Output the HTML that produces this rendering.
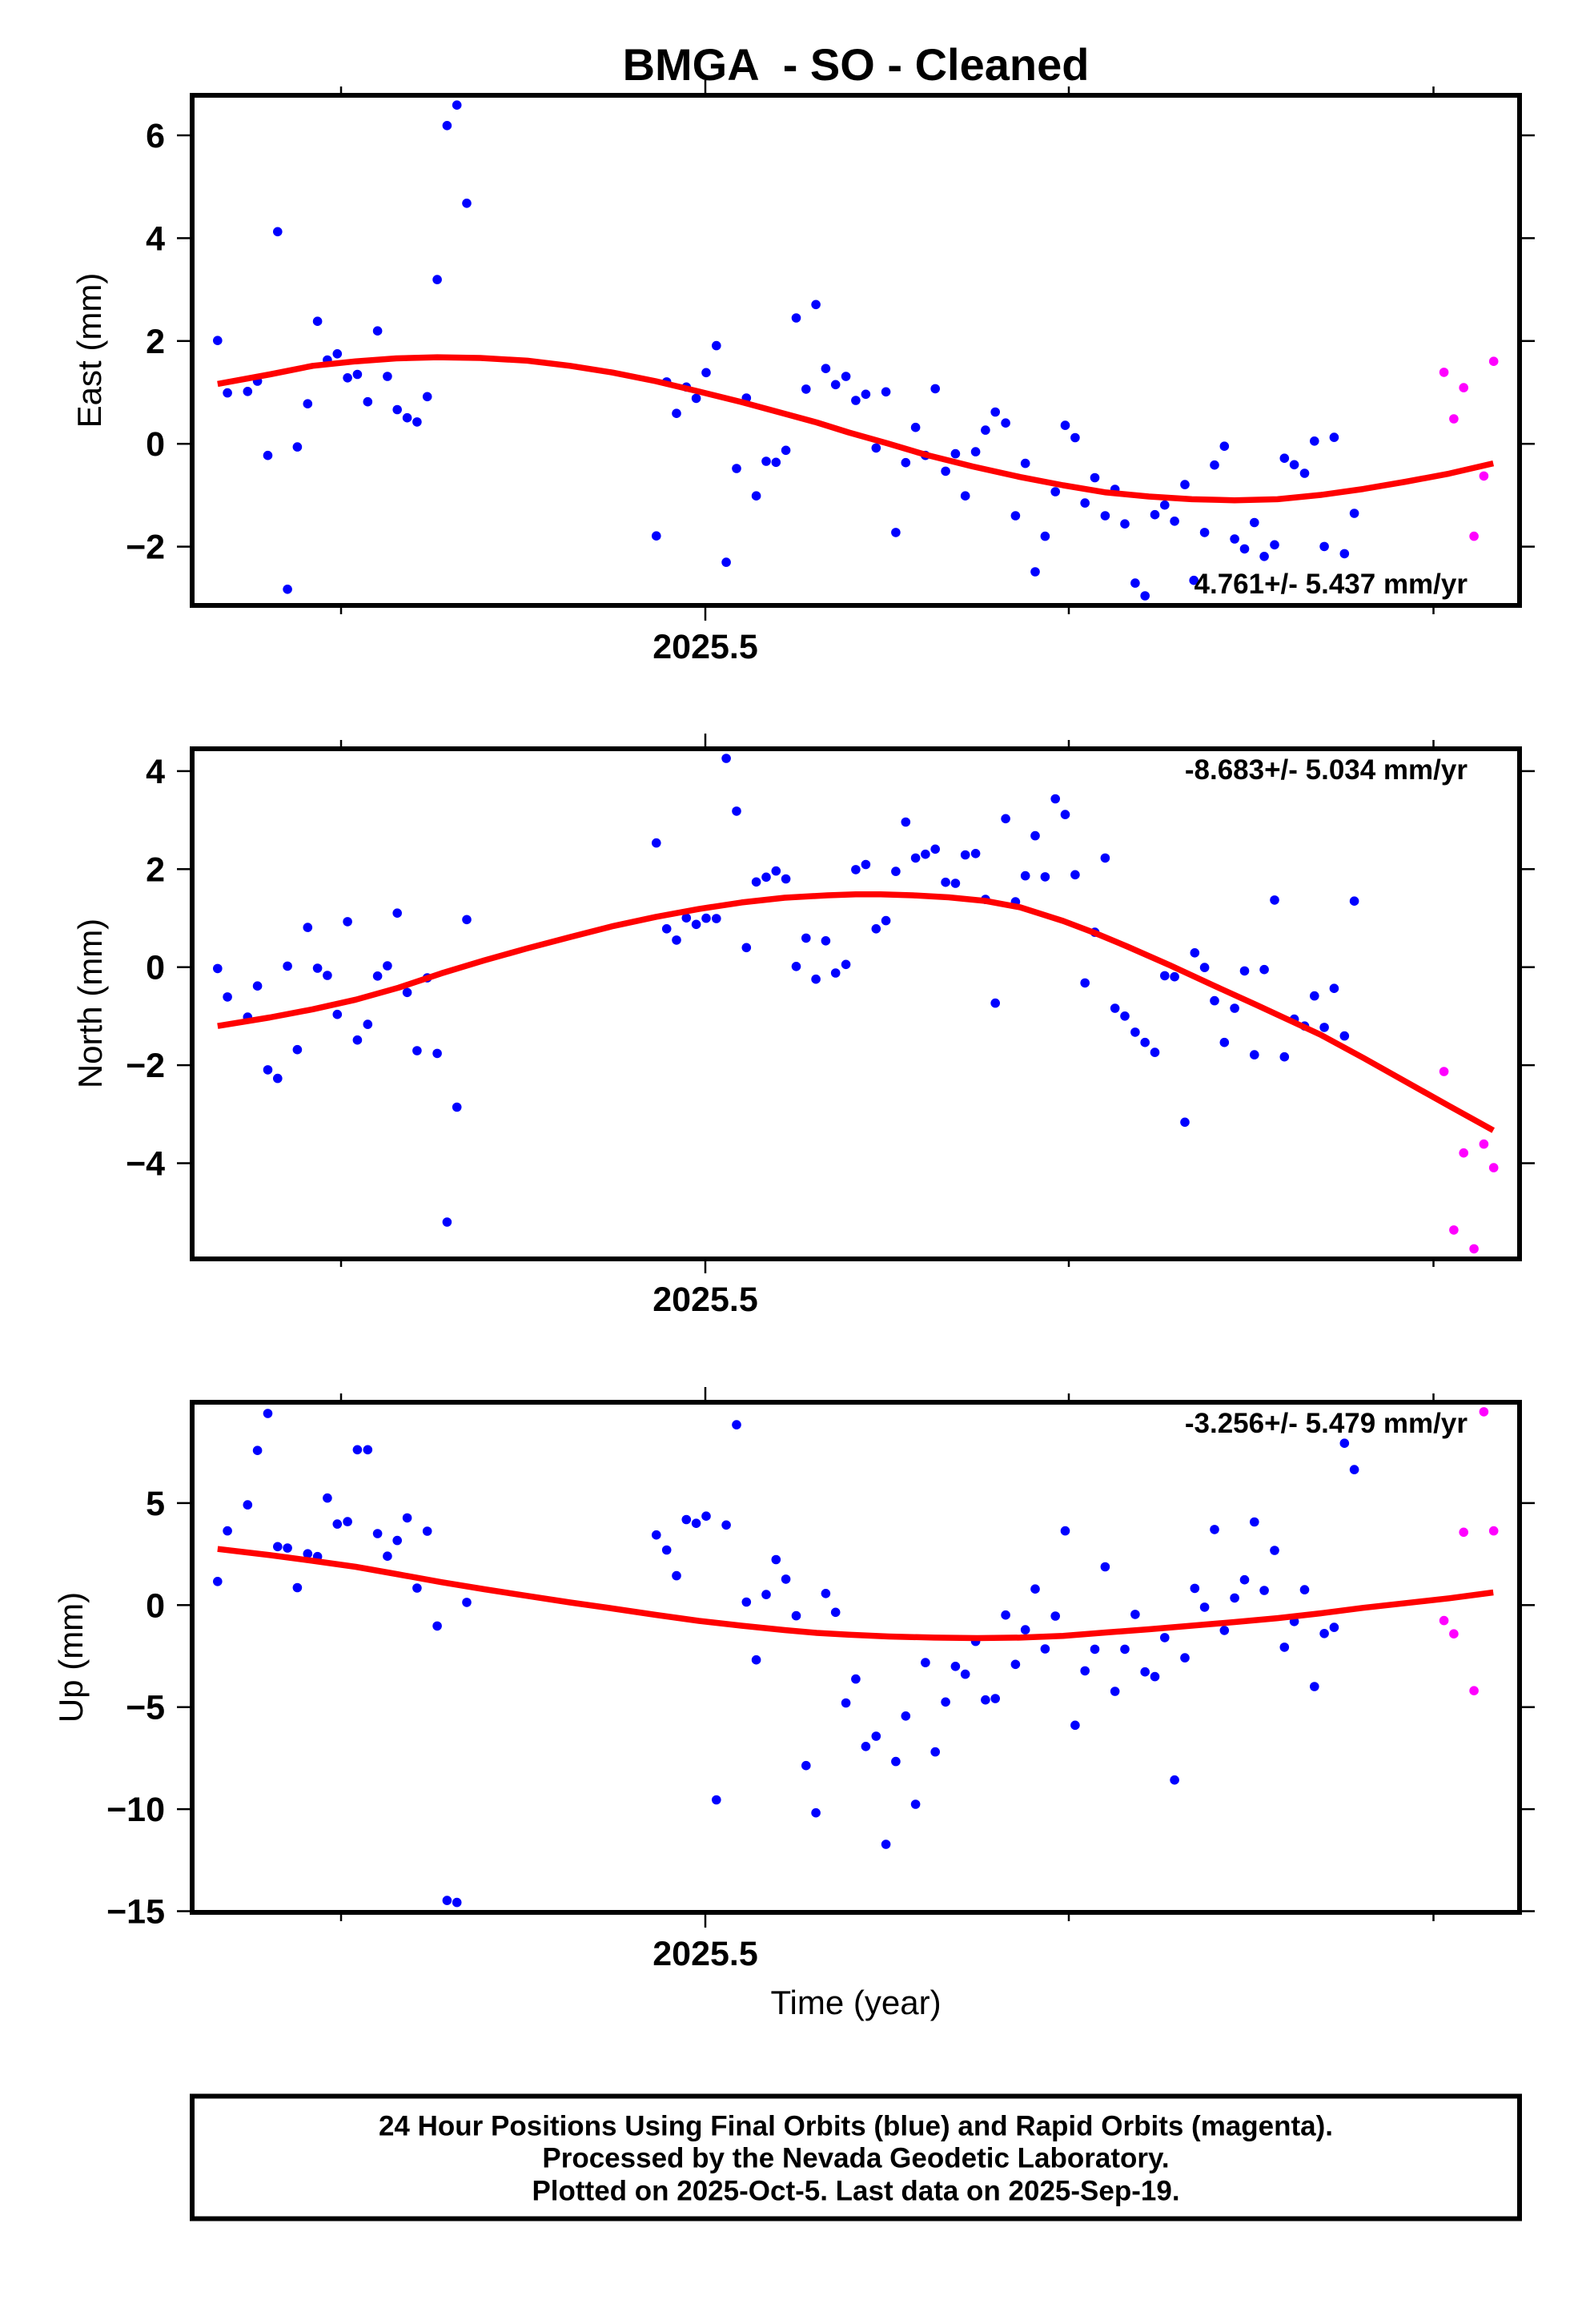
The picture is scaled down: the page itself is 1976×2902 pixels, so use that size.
<!DOCTYPE html>
<html>
<head>
<meta charset="utf-8">
<style>
html,body{margin:0;padding:0;background:#fff;}
svg{display:block;}
text{font-family:"Liberation Sans",Arial,Helvetica,sans-serif;fill:#000;}
.b{font-weight:bold;}
.tl{font-size:43px;font-weight:bold;}
.vel{font-size:35px;font-weight:bold;}
.ax{font-size:42px;}
</style>
</head>
<body>
<svg width="1976" height="2902" viewBox="0 0 1976 2902" xmlns="http://www.w3.org/2000/svg">
<rect x="0" y="0" width="1976" height="2902" fill="#fff"/>

<!-- Title -->
<text x="1069" y="100" class="b" font-size="56" text-anchor="middle" style="white-space:pre" xml:space="preserve">BMGA  - SO - Cleaned</text>

<!-- ================= PANEL 1 (East) ================= -->
<g stroke="#000" stroke-width="2.5">
  <!-- y ticks left/right -->
  <line x1="221" y1="169" x2="237" y2="169"/><line x1="1901" y1="169" x2="1917" y2="169"/>
  <line x1="221" y1="297.4" x2="237" y2="297.4"/><line x1="1901" y1="297.4" x2="1917" y2="297.4"/>
  <line x1="221" y1="425.8" x2="237" y2="425.8"/><line x1="1901" y1="425.8" x2="1917" y2="425.8"/>
  <line x1="221" y1="554.2" x2="237" y2="554.2"/><line x1="1901" y1="554.2" x2="1917" y2="554.2"/>
  <line x1="221" y1="682.6" x2="237" y2="682.6"/><line x1="1901" y1="682.6" x2="1917" y2="682.6"/>
  <!-- x ticks top -->
  <line x1="426" y1="116" x2="426" y2="108"/><line x1="881" y1="116" x2="881" y2="100"/>
  <line x1="1335" y1="116" x2="1335" y2="108"/><line x1="1790.5" y1="116" x2="1790.5" y2="108"/>
  <!-- x ticks bottom -->
  <line x1="426" y1="759" x2="426" y2="767"/><line x1="881" y1="759" x2="881" y2="775"/>
  <line x1="1335" y1="759" x2="1335" y2="767"/><line x1="1790.5" y1="759" x2="1790.5" y2="767"/>
</g>
<g class="tl" text-anchor="end">
  <text x="206" y="184">6</text>
  <text x="206" y="312.4">4</text>
  <text x="206" y="440.8">2</text>
  <text x="206" y="569.2">0</text>
  <text x="206" y="697.6">−2</text>
</g>
<text class="tl" x="881" y="822" text-anchor="middle">2025.5</text>
<text class="ax" transform="translate(126,437.5) rotate(-90)" text-anchor="middle">East (mm)</text>

<g fill="#0000ff">
<circle cx="271.8" cy="425.2" r="5.8"/><circle cx="284.1" cy="490.6" r="5.8"/><circle cx="309.3" cy="488.8" r="5.8"/><circle cx="321.6" cy="476.0" r="5.8"/><circle cx="334.5" cy="568.7" r="5.8"/><circle cx="346.8" cy="289.3" r="5.8"/><circle cx="359.1" cy="735.8" r="5.8"/><circle cx="371.4" cy="558.1" r="5.8"/><circle cx="384.3" cy="504.2" r="5.8"/><circle cx="396.6" cy="401.2" r="5.8"/><circle cx="408.9" cy="449.5" r="5.8"/><circle cx="421.3" cy="441.8" r="5.8"/><circle cx="434.1" cy="471.8" r="5.8"/><circle cx="446.4" cy="467.5" r="5.8"/><circle cx="459.3" cy="501.7" r="5.8"/><circle cx="471.6" cy="413.2" r="5.8"/><circle cx="483.9" cy="470.0" r="5.8"/><circle cx="496.2" cy="511.5" r="5.8"/><circle cx="508.6" cy="521.7" r="5.8"/><circle cx="520.9" cy="526.9" r="5.8"/><circle cx="533.7" cy="495.3" r="5.8"/><circle cx="546.1" cy="349.1" r="5.8"/><circle cx="558.4" cy="156.8" r="5.8"/><circle cx="570.7" cy="131.2" r="5.8"/><circle cx="583.0" cy="253.8" r="5.8"/>
<circle cx="819.8" cy="669.2" r="5.8"/><circle cx="832.7" cy="476.9" r="5.8"/><circle cx="845.0" cy="516.2" r="5.8"/><circle cx="857.3" cy="483.3" r="5.8"/><circle cx="869.6" cy="497.4" r="5.8"/><circle cx="882.0" cy="465.3" r="5.8"/><circle cx="894.8" cy="431.6" r="5.8"/><circle cx="907.1" cy="702.1" r="5.8"/><circle cx="920.0" cy="585.0" r="5.8"/><circle cx="932.3" cy="497.0" r="5.8"/><circle cx="944.6" cy="619.2" r="5.8"/><circle cx="957.0" cy="576.0" r="5.8"/><circle cx="969.3" cy="577.3" r="5.8"/><circle cx="981.6" cy="562.3" r="5.8"/><circle cx="994.5" cy="397.0" r="5.8"/><circle cx="1006.8" cy="485.9" r="5.8"/><circle cx="1019.1" cy="380.3" r="5.8"/><circle cx="1031.4" cy="460.2" r="5.8"/><circle cx="1043.7" cy="480.3" r="5.8"/><circle cx="1056.6" cy="470.0" r="5.8"/><circle cx="1068.9" cy="500.0" r="5.8"/>
<circle cx="1081.4" cy="492.3" r="5.8"/><circle cx="1094.3" cy="559.4" r="5.8"/><circle cx="1106.6" cy="489.3" r="5.8"/><circle cx="1118.9" cy="664.9" r="5.8"/><circle cx="1131.3" cy="577.7" r="5.8"/><circle cx="1143.6" cy="533.7" r="5.8"/><circle cx="1155.9" cy="568.7" r="5.8"/><circle cx="1168.2" cy="485.4" r="5.8"/><circle cx="1181.1" cy="588.4" r="5.8"/><circle cx="1193.4" cy="566.6" r="5.8"/><circle cx="1205.7" cy="619.2" r="5.8"/><circle cx="1218.6" cy="564.1" r="5.8"/><circle cx="1230.9" cy="537.1" r="5.8"/><circle cx="1243.2" cy="514.5" r="5.8"/><circle cx="1256.1" cy="528.2" r="5.8"/><circle cx="1268.4" cy="644.0" r="5.8"/><circle cx="1280.7" cy="578.6" r="5.8"/><circle cx="1293.0" cy="714.0" r="5.8"/><circle cx="1305.4" cy="669.6" r="5.8"/><circle cx="1318.2" cy="614.0" r="5.8"/><circle cx="1330.5" cy="531.1" r="5.8"/><circle cx="1342.9" cy="546.5" r="5.8"/><circle cx="1355.2" cy="628.1" r="5.8"/><circle cx="1367.5" cy="596.5" r="5.8"/><circle cx="1380.4" cy="644.0" r="5.8"/><circle cx="1392.7" cy="611.0" r="5.8"/><circle cx="1405.0" cy="654.2" r="5.8"/><circle cx="1417.9" cy="728.1" r="5.8"/><circle cx="1430.2" cy="744.0" r="5.8"/><circle cx="1442.5" cy="642.7" r="5.8"/><circle cx="1454.8" cy="630.7" r="5.8"/><circle cx="1467.1" cy="650.8" r="5.8"/><circle cx="1480.0" cy="605.1" r="5.8"/><circle cx="1491.2" cy="724.7" r="5.8"/><circle cx="1504.6" cy="664.9" r="5.8"/><circle cx="1517.0" cy="580.7" r="5.8"/><circle cx="1529.3" cy="557.2" r="5.8"/><circle cx="1542.1" cy="673.0" r="5.8"/><circle cx="1554.5" cy="685.4" r="5.8"/><circle cx="1566.8" cy="652.5" r="5.8"/><circle cx="1579.1" cy="694.8" r="5.8"/><circle cx="1592.0" cy="680.3" r="5.8"/><circle cx="1604.3" cy="572.2" r="5.8"/><circle cx="1616.6" cy="580.3" r="5.8"/><circle cx="1629.5" cy="591.0" r="5.8"/><circle cx="1641.8" cy="550.8" r="5.8"/><circle cx="1654.1" cy="682.4" r="5.8"/><circle cx="1666.4" cy="546.1" r="5.8"/><circle cx="1679.3" cy="691.4" r="5.8"/><circle cx="1691.6" cy="641.0" r="5.8"/>
</g>
<g fill="#ff00ff">
<circle cx="1803.6" cy="464.9" r="5.8"/><circle cx="1815.9" cy="523.0" r="5.8"/><circle cx="1828.2" cy="484.1" r="5.8"/><circle cx="1841.1" cy="669.6" r="5.8"/><circle cx="1853.4" cy="594.4" r="5.8"/><circle cx="1865.7" cy="451.2" r="5.8"/>
</g>
<polyline fill="none" stroke="#ff0000" stroke-width="7.5" stroke-linejoin="round" points="271.8,479.4 337.1,467.5 390.7,456.8 444.3,451.2 495,447.5 546.1,446.1 600,447 658.6,450.4 712,456.8 765.7,465.3 819,476 872.9,488.9 926,502 980,516.6 1020,527.5 1060,540 1108,553.5 1156.4,567.9 1215,582.5 1274.3,595.7 1328,606 1381.4,614.9 1435,620 1488.6,623.4 1542,624.7 1595.7,623.4 1650,618 1702.9,610.6 1756,601.5 1810,591.4 1865.2,578.6"/>
<text class="vel" x="1833" y="741" text-anchor="end">4.761+/- 5.437 mm/yr</text>
<rect x="240" y="119" width="1658" height="637" fill="none" stroke="#000" stroke-width="6"/>

<!-- ================= PANEL 2 (North) ================= -->
<g stroke="#000" stroke-width="2.5">
  <line x1="221" y1="962.9" x2="237" y2="962.9"/><line x1="1901" y1="962.9" x2="1917" y2="962.9"/>
  <line x1="221" y1="1085.3" x2="237" y2="1085.3"/><line x1="1901" y1="1085.3" x2="1917" y2="1085.3"/>
  <line x1="221" y1="1207.7" x2="237" y2="1207.7"/><line x1="1901" y1="1207.7" x2="1917" y2="1207.7"/>
  <line x1="221" y1="1330.1" x2="237" y2="1330.1"/><line x1="1901" y1="1330.1" x2="1917" y2="1330.1"/>
  <line x1="221" y1="1452.5" x2="237" y2="1452.5"/><line x1="1901" y1="1452.5" x2="1917" y2="1452.5"/>
  <line x1="426" y1="932" x2="426" y2="924"/><line x1="881" y1="932" x2="881" y2="916"/>
  <line x1="1335" y1="932" x2="1335" y2="924"/><line x1="1790.5" y1="932" x2="1790.5" y2="924"/>
  <line x1="426" y1="1574" x2="426" y2="1582"/><line x1="881" y1="1574" x2="881" y2="1590"/>
  <line x1="1335" y1="1574" x2="1335" y2="1582"/><line x1="1790.5" y1="1574" x2="1790.5" y2="1582"/>
</g>
<g class="tl" text-anchor="end">
  <text x="206" y="977.9">4</text>
  <text x="206" y="1100.3">2</text>
  <text x="206" y="1222.7">0</text>
  <text x="206" y="1345.1">−2</text>
  <text x="206" y="1467.5">−4</text>
</g>
<text class="tl" x="881" y="1637" text-anchor="middle">2025.5</text>
<text class="ax" transform="translate(127,1253) rotate(-90)" text-anchor="middle">North (mm)</text>

<g fill="#0000ff">
<circle cx="271.8" cy="1209.4" r="5.8"/><circle cx="284.1" cy="1244.9" r="5.8"/><circle cx="309.3" cy="1270.1" r="5.8"/><circle cx="321.6" cy="1231.2" r="5.8"/><circle cx="334.5" cy="1335.9" r="5.8"/><circle cx="346.8" cy="1346.6" r="5.8"/><circle cx="359.1" cy="1206.4" r="5.8"/><circle cx="371.4" cy="1310.7" r="5.8"/><circle cx="384.3" cy="1158.1" r="5.8"/><circle cx="396.6" cy="1209.0" r="5.8"/><circle cx="408.9" cy="1218.0" r="5.8"/><circle cx="421.3" cy="1266.7" r="5.8"/><circle cx="434.1" cy="1150.9" r="5.8"/><circle cx="446.4" cy="1298.7" r="5.8"/><circle cx="459.3" cy="1279.1" r="5.8"/><circle cx="471.6" cy="1218.8" r="5.8"/><circle cx="483.9" cy="1206.0" r="5.8"/><circle cx="496.2" cy="1140.2" r="5.8"/><circle cx="508.6" cy="1239.3" r="5.8"/><circle cx="520.9" cy="1312.0" r="5.8"/><circle cx="533.7" cy="1221.0" r="5.8"/><circle cx="546.1" cy="1315.4" r="5.8"/><circle cx="558.4" cy="1526.0" r="5.8"/><circle cx="570.7" cy="1382.5" r="5.8"/><circle cx="583.0" cy="1148.3" r="5.8"/>
<circle cx="819.8" cy="1052.6" r="5.8"/><circle cx="832.7" cy="1159.8" r="5.8"/><circle cx="845.0" cy="1173.9" r="5.8"/><circle cx="857.3" cy="1146.2" r="5.8"/><circle cx="869.6" cy="1154.3" r="5.8"/><circle cx="882.0" cy="1146.6" r="5.8"/><circle cx="894.8" cy="1147.0" r="5.8"/><circle cx="907.1" cy="947.0" r="5.8"/><circle cx="920.0" cy="1012.9" r="5.8"/><circle cx="932.3" cy="1183.3" r="5.8"/><circle cx="944.6" cy="1101.3" r="5.8"/><circle cx="957.0" cy="1095.3" r="5.8"/><circle cx="969.3" cy="1087.6" r="5.8"/><circle cx="981.6" cy="1097.5" r="5.8"/><circle cx="994.5" cy="1206.8" r="5.8"/><circle cx="1006.8" cy="1171.4" r="5.8"/><circle cx="1019.1" cy="1222.7" r="5.8"/><circle cx="1031.4" cy="1174.8" r="5.8"/><circle cx="1043.7" cy="1215.0" r="5.8"/><circle cx="1056.6" cy="1204.3" r="5.8"/><circle cx="1068.9" cy="1085.9" r="5.8"/>
<circle cx="1081.4" cy="1079.5" r="5.8"/><circle cx="1094.3" cy="1159.8" r="5.8"/><circle cx="1106.6" cy="1149.6" r="5.8"/><circle cx="1118.9" cy="1088.1" r="5.8"/><circle cx="1131.3" cy="1026.5" r="5.8"/><circle cx="1143.6" cy="1071.4" r="5.8"/><circle cx="1155.9" cy="1066.7" r="5.8"/><circle cx="1168.2" cy="1060.3" r="5.8"/><circle cx="1181.1" cy="1101.7" r="5.8"/><circle cx="1193.4" cy="1103.0" r="5.8"/><circle cx="1205.7" cy="1067.5" r="5.8"/><circle cx="1218.6" cy="1065.8" r="5.8"/><circle cx="1230.9" cy="1123.1" r="5.8"/><circle cx="1243.2" cy="1252.6" r="5.8"/><circle cx="1256.1" cy="1022.3" r="5.8"/><circle cx="1268.4" cy="1126.1" r="5.8"/><circle cx="1280.7" cy="1093.6" r="5.8"/><circle cx="1293.0" cy="1043.6" r="5.8"/><circle cx="1305.4" cy="1094.9" r="5.8"/><circle cx="1318.2" cy="997.5" r="5.8"/><circle cx="1330.5" cy="1017.1" r="5.8"/><circle cx="1342.9" cy="1092.3" r="5.8"/><circle cx="1355.2" cy="1227.4" r="5.8"/><circle cx="1367.5" cy="1164.1" r="5.8"/><circle cx="1380.4" cy="1071.4" r="5.8"/><circle cx="1392.7" cy="1259.0" r="5.8"/><circle cx="1405.0" cy="1268.8" r="5.8"/><circle cx="1417.9" cy="1288.9" r="5.8"/><circle cx="1430.2" cy="1301.7" r="5.8"/><circle cx="1442.5" cy="1314.1" r="5.8"/><circle cx="1454.8" cy="1218.4" r="5.8"/><circle cx="1467.1" cy="1219.7" r="5.8"/><circle cx="1480.0" cy="1401.3" r="5.8"/><circle cx="1492.3" cy="1189.8" r="5.8"/><circle cx="1504.6" cy="1208.1" r="5.8"/><circle cx="1517.0" cy="1249.6" r="5.8"/><circle cx="1529.3" cy="1301.7" r="5.8"/><circle cx="1542.1" cy="1259.0" r="5.8"/><circle cx="1554.5" cy="1212.4" r="5.8"/><circle cx="1566.8" cy="1317.1" r="5.8"/><circle cx="1579.1" cy="1210.7" r="5.8"/><circle cx="1592.0" cy="1123.9" r="5.8"/><circle cx="1604.3" cy="1319.7" r="5.8"/><circle cx="1616.6" cy="1272.6" r="5.8"/><circle cx="1629.5" cy="1281.2" r="5.8"/><circle cx="1641.8" cy="1243.6" r="5.8"/><circle cx="1654.1" cy="1282.9" r="5.8"/><circle cx="1666.4" cy="1234.2" r="5.8"/><circle cx="1679.3" cy="1293.6" r="5.8"/><circle cx="1691.6" cy="1125.2" r="5.8"/>
</g>
<g fill="#ff00ff">
<circle cx="1803.6" cy="1338.0" r="5.8"/><circle cx="1815.9" cy="1535.9" r="5.8"/><circle cx="1828.2" cy="1439.7" r="5.8"/><circle cx="1841.1" cy="1559.4" r="5.8"/><circle cx="1853.4" cy="1428.6" r="5.8"/><circle cx="1865.7" cy="1458.1" r="5.8"/>
</g>
<polyline fill="none" stroke="#ff0000" stroke-width="7.5" stroke-linejoin="round" points="271.8,1281.2 337.1,1270.5 390.7,1260.3 444.3,1248.3 497.9,1233.3 551.4,1215.4 605,1199.2 658.6,1184.2 712.1,1170.1 765.7,1156.4 819.3,1144.9 872.9,1135.1 926.4,1126.9 980,1121 1033.6,1118 1068.9,1116.7 1100,1116.8 1140.4,1118 1185,1120.5 1230.9,1125 1274.3,1133 1327.9,1150 1367.5,1165 1408.2,1182 1461.8,1205.6 1515.4,1230.4 1568.9,1254.7 1617,1277 1649.3,1292 1702.9,1321 1756.4,1351 1810,1381 1865.2,1411.5"/>
<text class="vel" x="1833" y="973" text-anchor="end">-8.683+/- 5.034 mm/yr</text>
<rect x="240" y="935" width="1658" height="637" fill="none" stroke="#000" stroke-width="6"/>

<!-- ================= PANEL 3 (Up) ================= -->
<g stroke="#000" stroke-width="2.5">
  <line x1="221" y1="1876.9" x2="237" y2="1876.9"/><line x1="1901" y1="1876.9" x2="1917" y2="1876.9"/>
  <line x1="221" y1="2004.3" x2="237" y2="2004.3"/><line x1="1901" y1="2004.3" x2="1917" y2="2004.3"/>
  <line x1="221" y1="2131.7" x2="237" y2="2131.7"/><line x1="1901" y1="2131.7" x2="1917" y2="2131.7"/>
  <line x1="221" y1="2259.1" x2="237" y2="2259.1"/><line x1="1901" y1="2259.1" x2="1917" y2="2259.1"/>
  <line x1="221" y1="2386.5" x2="237" y2="2386.5"/><line x1="1901" y1="2386.5" x2="1917" y2="2386.5"/>
  <line x1="426" y1="1748" x2="426" y2="1740"/><line x1="881" y1="1748" x2="881" y2="1732"/>
  <line x1="1335" y1="1748" x2="1335" y2="1740"/><line x1="1790.5" y1="1748" x2="1790.5" y2="1740"/>
  <line x1="426" y1="2391" x2="426" y2="2399"/><line x1="881" y1="2391" x2="881" y2="2407"/>
  <line x1="1335" y1="2391" x2="1335" y2="2399"/><line x1="1790.5" y1="2391" x2="1790.5" y2="2399"/>
</g>
<g class="tl" text-anchor="end">
  <text x="206" y="1891.9">5</text>
  <text x="206" y="2019.3">0</text>
  <text x="206" y="2146.7">−5</text>
  <text x="206" y="2274.1">−10</text>
  <text x="206" y="2401.5">−15</text>
</g>
<text class="tl" x="881" y="2454" text-anchor="middle">2025.5</text>
<text class="ax" transform="translate(103,2069.5) rotate(-90)" text-anchor="middle">Up (mm)</text>
<text class="ax" x="1069" y="2515" text-anchor="middle" font-size="43">Time (year)</text>

<g fill="#0000ff">
<circle cx="271.8" cy="1974.8" r="5.8"/><circle cx="284.1" cy="1911.6" r="5.8"/><circle cx="309.3" cy="1879.1" r="5.8"/><circle cx="321.6" cy="1811.2" r="5.8"/><circle cx="334.5" cy="1765.0" r="5.8"/><circle cx="346.8" cy="1931.3" r="5.8"/><circle cx="359.1" cy="1933.0" r="5.8"/><circle cx="371.4" cy="1982.5" r="5.8"/><circle cx="384.3" cy="1940.2" r="5.8"/><circle cx="396.6" cy="1943.7" r="5.8"/><circle cx="408.9" cy="1870.6" r="5.8"/><circle cx="421.3" cy="1903.1" r="5.8"/><circle cx="434.1" cy="1900.1" r="5.8"/><circle cx="446.4" cy="1810.3" r="5.8"/><circle cx="459.3" cy="1810.3" r="5.8"/><circle cx="471.6" cy="1915.0" r="5.8"/><circle cx="483.9" cy="1943.2" r="5.8"/><circle cx="496.2" cy="1923.6" r="5.8"/><circle cx="508.6" cy="1895.4" r="5.8"/><circle cx="520.9" cy="1983.0" r="5.8"/><circle cx="533.7" cy="1912.0" r="5.8"/><circle cx="546.1" cy="2030.4" r="5.8"/><circle cx="558.4" cy="2373.1" r="5.8"/><circle cx="570.7" cy="2375.6" r="5.8"/><circle cx="583.0" cy="2000.9" r="5.8"/>
<circle cx="819.8" cy="1916.7" r="5.8"/><circle cx="832.7" cy="1935.5" r="5.8"/><circle cx="845.0" cy="1967.6" r="5.8"/><circle cx="857.3" cy="1897.5" r="5.8"/><circle cx="869.6" cy="1902.2" r="5.8"/><circle cx="882.0" cy="1893.2" r="5.8"/><circle cx="894.8" cy="2247.5" r="5.8"/><circle cx="907.1" cy="1904.3" r="5.8"/><circle cx="920.0" cy="1779.1" r="5.8"/><circle cx="932.3" cy="2000.5" r="5.8"/><circle cx="944.6" cy="2072.7" r="5.8"/><circle cx="957.0" cy="1991.1" r="5.8"/><circle cx="969.3" cy="1947.5" r="5.8"/><circle cx="981.6" cy="1971.9" r="5.8"/><circle cx="994.5" cy="2017.6" r="5.8"/><circle cx="1006.8" cy="2204.7" r="5.8"/><circle cx="1019.1" cy="2263.7" r="5.8"/><circle cx="1031.4" cy="1989.8" r="5.8"/><circle cx="1043.7" cy="2013.3" r="5.8"/><circle cx="1056.6" cy="2126.5" r="5.8"/><circle cx="1068.9" cy="2096.6" r="5.8"/>
<circle cx="1081.4" cy="2180.8" r="5.8"/><circle cx="1094.3" cy="2168.0" r="5.8"/><circle cx="1106.6" cy="2303.0" r="5.8"/><circle cx="1118.9" cy="2199.6" r="5.8"/><circle cx="1131.3" cy="2142.8" r="5.8"/><circle cx="1143.6" cy="2253.0" r="5.8"/><circle cx="1155.9" cy="2076.1" r="5.8"/><circle cx="1168.2" cy="2187.6" r="5.8"/><circle cx="1181.1" cy="2125.3" r="5.8"/><circle cx="1193.4" cy="2080.8" r="5.8"/><circle cx="1205.7" cy="2090.6" r="5.8"/><circle cx="1218.6" cy="2049.6" r="5.8"/><circle cx="1230.9" cy="2122.7" r="5.8"/><circle cx="1243.2" cy="2121.0" r="5.8"/><circle cx="1256.1" cy="2016.7" r="5.8"/><circle cx="1268.4" cy="2078.3" r="5.8"/><circle cx="1280.7" cy="2035.1" r="5.8"/><circle cx="1293.0" cy="1984.2" r="5.8"/><circle cx="1305.4" cy="2059.0" r="5.8"/><circle cx="1318.2" cy="2018.0" r="5.8"/><circle cx="1330.5" cy="1911.6" r="5.8"/><circle cx="1342.9" cy="2154.3" r="5.8"/><circle cx="1355.2" cy="2086.4" r="5.8"/><circle cx="1367.5" cy="2059.4" r="5.8"/><circle cx="1380.4" cy="1956.5" r="5.8"/><circle cx="1392.7" cy="2112.0" r="5.8"/><circle cx="1405.0" cy="2059.4" r="5.8"/><circle cx="1417.9" cy="2015.9" r="5.8"/><circle cx="1430.2" cy="2087.7" r="5.8"/><circle cx="1442.5" cy="2093.6" r="5.8"/><circle cx="1454.8" cy="2044.9" r="5.8"/><circle cx="1467.1" cy="2222.7" r="5.8"/><circle cx="1480.0" cy="2070.1" r="5.8"/><circle cx="1492.3" cy="1983.4" r="5.8"/><circle cx="1504.6" cy="2006.9" r="5.8"/><circle cx="1517.0" cy="1909.9" r="5.8"/><circle cx="1529.3" cy="2035.9" r="5.8"/><circle cx="1542.1" cy="1995.4" r="5.8"/><circle cx="1554.5" cy="1972.7" r="5.8"/><circle cx="1566.8" cy="1900.5" r="5.8"/><circle cx="1579.1" cy="1986.0" r="5.8"/><circle cx="1592.0" cy="1936.0" r="5.8"/><circle cx="1604.3" cy="2056.9" r="5.8"/><circle cx="1616.6" cy="2024.8" r="5.8"/><circle cx="1629.5" cy="1985.1" r="5.8"/><circle cx="1641.8" cy="2106.0" r="5.8"/><circle cx="1654.1" cy="2039.8" r="5.8"/><circle cx="1666.4" cy="2032.1" r="5.8"/><circle cx="1679.3" cy="1802.2" r="5.8"/><circle cx="1691.6" cy="1835.1" r="5.8"/>
</g>
<g fill="#ff00ff">
<circle cx="1803.6" cy="2023.6" r="5.8"/><circle cx="1815.9" cy="2040.2" r="5.8"/><circle cx="1828.2" cy="1913.3" r="5.8"/><circle cx="1841.1" cy="2111.2" r="5.8"/><circle cx="1853.4" cy="1762.9" r="5.8"/><circle cx="1865.7" cy="1911.6" r="5.8"/>
</g>
<polyline fill="none" stroke="#ff0000" stroke-width="7.5" stroke-linejoin="round" points="271.8,1934.2 337.1,1941.9 390.7,1949 444.3,1956.5 497.9,1966 551.4,1975.7 605,1984.5 658.6,1992.8 712,2001 765.7,2008.6 819,2016.5 872.9,2024 926,2030 980,2035.5 1020,2039 1060,2041.3 1110,2043.5 1167.1,2044.9 1220.7,2045.5 1274.3,2044.9 1327.9,2042.8 1381.4,2038.5 1435,2034.5 1488.6,2030 1542,2025.5 1595.7,2020.6 1650,2014.5 1702.9,2007.7 1756,2001.8 1810,1995.8 1865.2,1988.5"/>
<text class="vel" x="1833" y="1789" text-anchor="end">-3.256+/- 5.479 mm/yr</text>
<rect x="240" y="1751" width="1658" height="637" fill="none" stroke="#000" stroke-width="6"/>

<!-- ================= Legend box ================= -->
<rect x="240" y="2617.5" width="1658" height="153" fill="none" stroke="#000" stroke-width="6"/>
<g class="vel" text-anchor="middle">
  <text x="1069" y="2666.7">24 Hour Positions Using Final Orbits (blue) and Rapid Orbits (magenta).</text>
  <text x="1069" y="2706.7">Processed by the Nevada Geodetic Laboratory.</text>
  <text x="1069" y="2747.3">Plotted on 2025-Oct-5. Last data on 2025-Sep-19.</text>
</g>
</svg>
</body>
</html>
